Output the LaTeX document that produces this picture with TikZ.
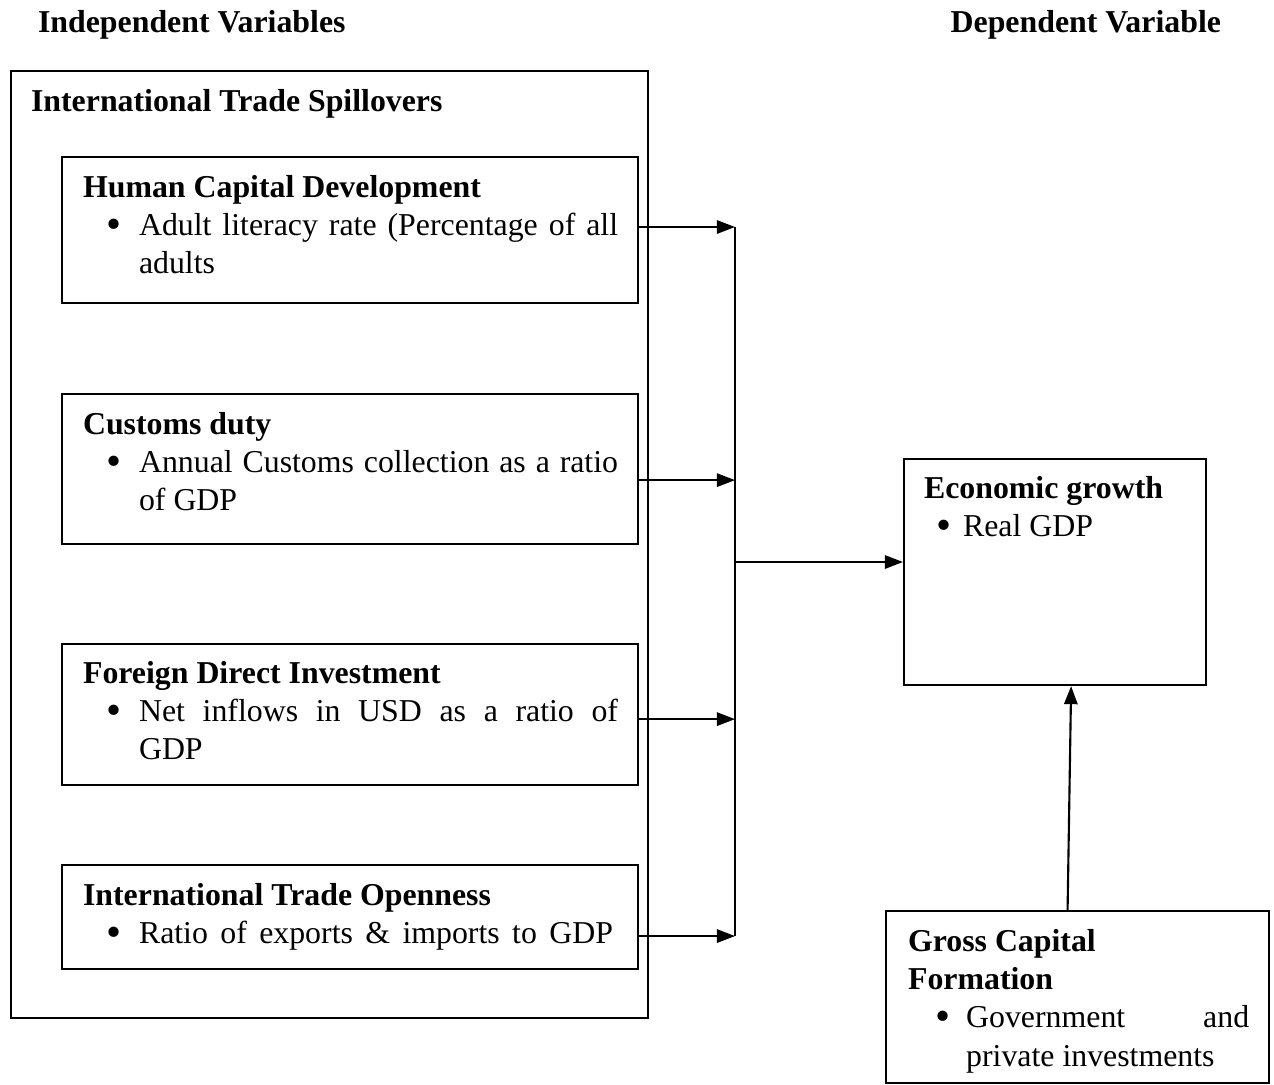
\documentclass[tikz,border=0pt]{standalone}
\usepackage{fontspec}
\usepackage{graphicx}
\setmainfont{Liberation Serif}
\usetikzlibrary{arrows.meta, positioning, calc}

% bullet line: bullet offset, text indent, text
\newcommand{\bitem}[3]{\par\noindent\makebox[#2][l]{\hspace*{#1}\raisebox{-0.08em}{\scalebox{1.35}{\textbullet}}}%
  \parbox[t]{\dimexpr\linewidth-#2\relax}{#3}}

\begin{document}
\begin{tikzpicture}[
    x=0.377pt, y=-0.377pt, line width=0.8pt,
    ->, >={Triangle[length=6.8pt, width=5pt]},
    every node/.style={font=\fontsize{12}{14.5}\selectfont, inner sep=0pt},
    frame/.style={draw, anchor=north west},
    boxtext/.style={anchor=base west, text width=#1, align=justify},
]
\useasboundingbox (0,0) rectangle (1274,1084);

\node (indep_head) [anchor=base west] at (37,32) {\bfseries Independent Variables};
\node (dep_head) [anchor=base east] at (1222,32) {\bfseries Dependent Variable};

\node (spillovers) [frame, minimum width=240.1pt, minimum height=357pt] at (10,70) {};
\node (spillovers_title) [anchor=base west] at ([shift={(20,41)}]spillovers.north west) {\bfseries International Trade Spillovers};

\node (hcd) [frame, minimum width=217.2pt, minimum height=55pt] at (61,156) {};
\node (customs) [frame, minimum width=217.2pt, minimum height=56.6pt] at (61,393) {};
\node (fdi) [frame, minimum width=217.2pt, minimum height=53.2pt] at (61,643) {};
\node (openness) [frame, minimum width=217.2pt, minimum height=39.2pt] at (61,864) {};
\node (growth) [frame, minimum width=113.9pt, minimum height=85.2pt] at (903,458) {};
\node (gcf) [frame, minimum width=144.4pt, minimum height=64.8pt] at (885,910) {};

\node (hcd_text) [boxtext=201.7pt] at ([shift={(21,41)}]hcd.north west) {{\bfseries Human Capital Development}\bitem{9pt}{21.1pt}{Adult literacy rate (Percentage of all\linebreak adults}};
\node (customs_text) [boxtext=201.7pt] at ([shift={(21,41)}]customs.north west) {{\bfseries Customs duty}\bitem{9pt}{21.1pt}{Annual Customs collection as a ratio\linebreak of GDP}};
\node (fdi_text) [boxtext=201.7pt] at ([shift={(21,40)}]fdi.north west) {{\bfseries Foreign Direct Investment}\bitem{9pt}{21.1pt}{Net inflows in USD as a ratio of\linebreak GDP}};
\node (openness_text) [boxtext=201.7pt] at ([shift={(21,41)}]openness.north west) {{\bfseries International Trade Openness}\bitem{9pt}{21.1pt}{\makebox[178.7pt][s]{Ratio of exports \& imports to GDP}}};
\node (growth_text) [boxtext=105.6pt] at ([shift={(20,40)}]growth.north west) {{\bfseries Economic growth}\bitem{4.5pt}{14.7pt}{Real GDP}};
\node (gcf_text) [boxtext=128.6pt] at ([shift={(22,41)}]gcf.north west) {{\bfseries Gross Capital\par Formation}\bitem{10.5pt}{21.9pt}{Government and\linebreak private investments}};

\coordinate (bus) at (735,562);
\draw (hcd.east) ++(0,-3) coordinate (hcd_out) -- (hcd_out -| bus);
\draw (customs.east) ++(0,11) coordinate (customs_out) -- (customs_out -| bus);
\draw (fdi.east) ++(0,4.5) coordinate (fdi_out) -- (fdi_out -| bus);
\draw (openness.east) ++(0,19) coordinate (openness_out) -- (openness_out -| bus);
\draw[-] (hcd_out -| bus) -- (openness_out -| bus);
\draw (bus) -- (bus -| growth.west);
\draw (gcf.north) ++(-10,0) coordinate (gcf_out) -- ($(growth.south)+(16,0)$);
\end{tikzpicture}
\end{document}
